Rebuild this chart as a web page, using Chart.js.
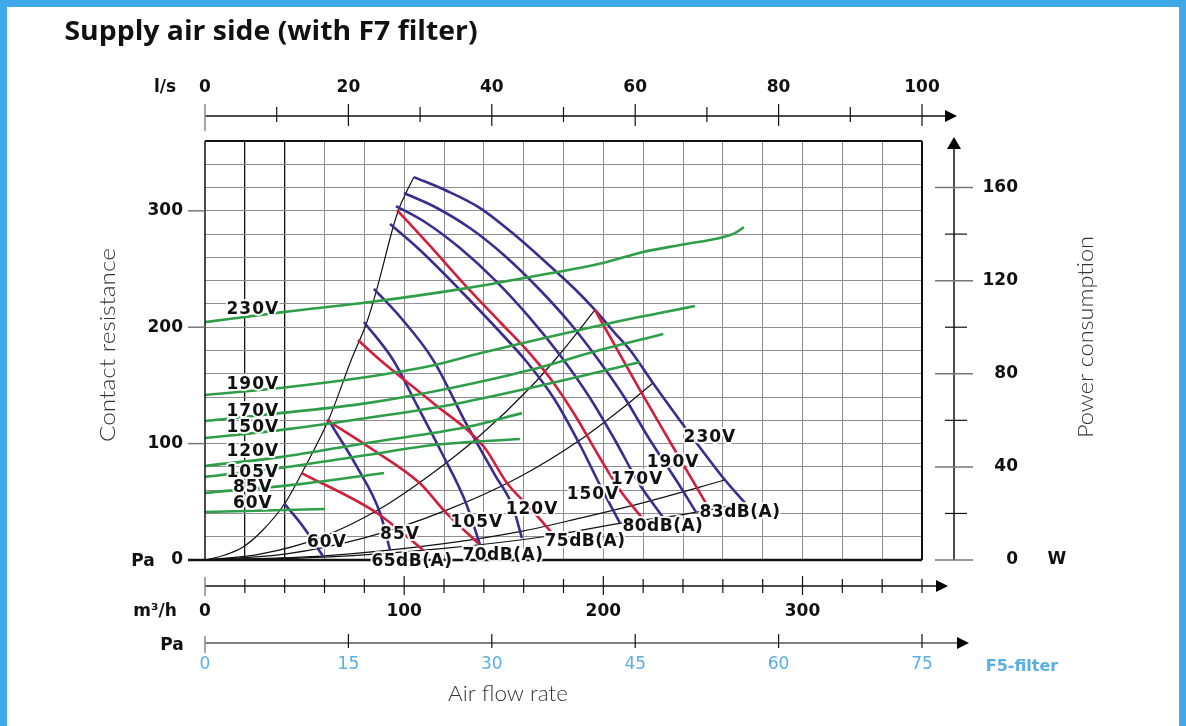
<!DOCTYPE html>
<html>
<head>
<meta charset="utf-8">
<script src="https://cdn.jsdelivr.net/npm/chart.js@4.4.1/dist/chart.umd.min.js"></script>
<style>
  html, body { margin: 0; padding: 0; background: #fff; }
  canvas { display: block; }
</style>
</head>
<body>
<canvas id="fanChart" width="1186" height="726"></canvas>
<script>
// air flow in m3/h, pressure in Pa, power in W

const flowTicks = [0, 100, 200, 300];
const litreTicks = [0, 20, 40, 60, 80, 100];
const f5Ticks = [0, 15, 30, 45, 60, 75];
const pressureTicks = [0, 100, 200, 300];
const powerTicks = [0, 40, 80, 120, 160];

const fanVoltages = ['230V', '190V', '170V', '150V', '120V', '105V', '85V', '60V'];

// fan curves [m3/h, Pa]
const fanCurves = [
  [[104.9,329],[120.5,317.9],[138.1,302.4],[155.6,279.2],[173.2,252.6],[185.7,232.8],[195.8,214.8],[205.8,195],[213.4,180.4],[224.9,152.1],[242,111.7],[261.1,68.7],[271.1,49]],
  [[99.9,315.3],[115.5,303.3],[133,285.2],[150.6,261.2],[168.2,232],[183.2,203.6],[198.3,170.1],[210.8,139.2],[223.4,103.1],[235.9,70.4],[246.5,41.2]],
  [[95.9,304.1],[110.4,290.4],[128,268],[145.6,240.5],[163.2,207.9],[178.2,176.1],[193.3,139.2],[205.8,103.1],[218.4,64.4],[229.9,36.9]],
  [[92.9,288.7],[107.9,266.3],[128,232],[148.1,195.9],[161.6,170.1],[175.7,137.5],[188.3,98.8],[198.3,64.4],[208.3,31.8]],
  [[84.8,233],[97.9,209],[114.5,172],[131.5,116],[145.6,73],[154.6,45.5],[159.1,19]],
  [[79.8,204.5],[94.4,172],[106.4,133],[119.5,90],[131,49],[138.1,13]],
  [[61.7,121],[76.3,80],[87.9,40.4],[92.9,8.6]],
  [[39.7,48.7],[49.3,28.6],[59.4,2.9]]
];

const soundLevels = ['65dB(A)', '70dB(A)', '75dB(A)', '80dB(A)', '83dB(A)'];

// constant sound level lines [m3/h, Pa]
const soundCurves = [
  [[48.8,74.5],[86.3,40.4],[109.6,8.6]],
  [[61.1,120.3],[84.5,94.5],[107.9,65.9],[121.3,40.1],[137.2,14.3]],
  [[76.8,189],[87.9,171.8],[114.5,134.9],[140.1,97.1],[151.6,66.2],[163.2,44.7],[174.2,23.2]],
  [[96.4,300.7],[113,269.8],[131.5,234.5],[148.1,204.5],[161.6,180.4],[173.2,156.4],[185.7,124.6],[198.3,87.6],[208.3,60.1],[219.9,35.2]],
  [[195.8,214.8],[204.3,189],[218.4,146],[235,97.1],[252,47.3]]
];

// system curves from the origin [m3/h, Pa]
const systemCurves = [
  [[0,0],[10,4.3],[19.1,11.2],[28.6,24.9],[40.2,49],[50.2,79.9],[62.2,121.1],[73.8,173.5],[81.3,204.5],[86.3,232.8],[94.9,288.7],[97.9,304.1],[100.9,315.3],[104.9,329]],
  [[0,0],[27.6,5],[57.7,19],[87.9,44],[113,73],[138.1,107],[163.2,148],[178.2,177],[195.8,214.8]],
  [[0,0],[40,5],[80,19],[120,42],[158.1,71.6],[188.3,103.1],[210,131],[224.9,152.1]],
  [[0,0],[60,3.5],[120,14],[160,25],[188.3,36],[221.8,50],[261.1,68.7]],
  [[0,0],[60,2.5],[120,10],[170,20],[208.3,31.5],[240,39],[271.1,49]]
];

// power consumption per voltage [m3/h, W]
const powerCurves = [
  [[0,102.2],[39.2,106.5],[82.8,110.8],[131.5,116.8],[163.2,121.6],[199.8,127.6],[219.9,132.3],[238.5,135.3],[260,138.7],[266,140.4],[270.6,143]],
  [[0,70.9],[37.7,73.9],[81.3,78.6],[113,83.3],[138.1,88.8],[168.2,94.9],[188.3,98.8],[208.3,102.7],[228.4,106.1],[246,109.1]],
  [[0,59.7],[37.7,63.1],[81.3,67.4],[123,73.8],[163.2,81.6],[198.3,90.2],[230.1,97.1]],
  [[0,52.4],[37.7,55.8],[81.3,61],[123,66.6],[163.2,73.9],[201.8,81.6],[218.4,85.1]],
  [[0,40.4],[37.7,44.2],[81.3,50.3],[131.5,57.1],[159.1,63.1]],
  [[0,35.7],[37.7,39.5],[81.3,45.1],[114.5,49.4],[158.1,52]],
  [[0,28.8],[47.7,32.6],[89.9,37.4]],
  [[0,20.6],[60.2,21.9]]
];

// where the curve names sit [m3/h, Pa]
const fanLabelAt = [[253.5,105.4],[235,83.6],[216.9,69.3],[194.8,55.8],[164.2,43],[136.5,32],[97.9,21.5],[61.2,14.9]];
const powerLabelAt = [[24,214.8],[24,150.3],[24,127.1],[24,113.4],[24,92.8],[24,74.7],[24,61.9],[24,48.1]];
const soundLabelAt = [[103.9,-1.5],[149.6,3.4],[190.8,15.7],[229.9,28.6],[268.6,40.6]];

const FAN_BLUE = '#3a2d8f';
const DB_RED = '#cf1f3d';
const POWER_GREEN = '#2f9e48';
const FRAME_BLUE = '#3ea8e8';
const F5_BLUE = '#5aaee3';

function curveSet(points, color, width, yAxisID, order) {
  return {
    data: points.map(p => ({ x: p[0], y: p[1] })),
    borderColor: color,
    borderWidth: width,
    pointRadius: 0,
    fill: false,
    cubicInterpolationMode: 'monotone',
    xAxisID: 'x',
    yAxisID: yAxisID,
    order: order
  };
}

const datasets = [];
systemCurves.forEach(c => datasets.push(curveSet(c, '#111', 1.2, 'y', 4)));
fanCurves.forEach(c => datasets.push(curveSet(c, FAN_BLUE, 2.6, 'y', 3)));
soundCurves.forEach(c => datasets.push(curveSet(c, DB_RED, 2.6, 'y', 2)));
powerCurves.forEach(c => datasets.push(curveSet(c, POWER_GREEN, 2.6, 'w', 1)));

function text(ctx, s, x, y, font, color, align, base) {
  ctx.font = font;
  ctx.fillStyle = color;
  ctx.textAlign = align || 'center';
  ctx.textBaseline = base || 'middle';
  ctx.fillText(s, x, y);
}

// text squeezed or stretched to a given width
function fitText(ctx, s, x, y, font, color, width, angle) {
  ctx.save();
  ctx.font = font;
  ctx.fillStyle = color;
  ctx.textAlign = 'center';
  ctx.textBaseline = 'middle';
  const w = ctx.measureText(s).width;
  ctx.translate(x, y);
  if (angle) ctx.rotate(angle);
  ctx.scale(width / w, 1);
  ctx.fillText(s, 0, 0);
  ctx.restore();
}

function haloText(ctx, s, x, y, font, spacing) {
  ctx.save();
  ctx.font = font;
  ctx.letterSpacing = spacing + 'px';
  ctx.textAlign = 'center';
  ctx.textBaseline = 'middle';
  ctx.lineJoin = 'round';
  ctx.strokeStyle = 'rgba(255,255,255,0.9)';
  ctx.lineWidth = 4;
  ctx.strokeText(s, x, y);
  ctx.fillStyle = '#111';
  ctx.fillText(s, x, y);
  ctx.restore();
}

function line(ctx, x1, y1, x2, y2, color, width) {
  ctx.beginPath();
  ctx.moveTo(x1, y1);
  ctx.lineTo(x2, y2);
  ctx.strokeStyle = color;
  ctx.lineWidth = width;
  ctx.stroke();
}

function arrow(ctx, x, y, dir) {
  ctx.beginPath();
  if (dir === 'right') {
    ctx.moveTo(x, y); ctx.lineTo(x - 12, y - 6); ctx.lineTo(x - 12, y + 6);
  } else {
    ctx.moveTo(x, y); ctx.lineTo(x - 7, y + 12); ctx.lineTo(x + 7, y + 12);
  }
  ctx.closePath();
  ctx.fillStyle = '#000';
  ctx.fill();
}

const decor = {
  id: 'decor',
  beforeDraw(chart) {
    const ctx = chart.ctx;
    ctx.save();
    ctx.fillStyle = '#fff';
    ctx.fillRect(0, 0, chart.width, chart.height);
    ctx.fillStyle = FRAME_BLUE;
    ctx.fillRect(0, 0, chart.width, 7);
    ctx.fillRect(0, 0, 7, chart.height);
    ctx.fillRect(chart.width - 7, 0, 7, chart.height);
    ctx.restore();
  },
  afterDraw(chart) {
    const ctx = chart.ctx;
    const X = chart.scales.x, Y = chart.scales.y, W = chart.scales.w;
    const LS = chart.scales.ls, F5 = chart.scales.f5;
    const ca = chart.chartArea;
    const numFont = 'bold 17px "DejaVu Sans"';
    ctx.save();

    // title
    fitText(ctx, 'Supply air side (with F7 filter)', 271, 33, 'bold 26px "Open Sans"', '#111', 413);

    // plot frame
    line(ctx, ca.left, ca.top, ca.right, ca.top, '#111', 2);
    line(ctx, ca.right, ca.top, ca.right, ca.bottom, '#111', 2);
    line(ctx, ca.left, ca.top, ca.left, ca.bottom, '#111', 1.5);
    line(ctx, 188, ca.bottom, ca.right, ca.bottom, '#111', 2.5);

    // left pressure axis
    pressureTicks.forEach(v => {
      const y = Y.getPixelForValue(v);
      if (v > 0) line(ctx, 188, y, ca.left, y, '#777', 1.5);
      text(ctx, String(v), 183, y, numFont, '#111', 'right');
    });
    text(ctx, 'Pa', 143, Y.getPixelForValue(0) + 2, numFont, '#111');
    fitText(ctx, 'Contact resistance', 108, 345, '300 22px Lato', '#333', 194, -Math.PI / 2);

    // top l/s axis
    const topY = 116;
    line(ctx, LS.getPixelForValue(0), topY, 947, topY, '#111', 1.5);
    arrow(ctx, 957, topY, 'right');
    for (let i = 0; i < litreTicks.length; i++) {
      const v = litreTicks[i];
      const x = LS.getPixelForValue(v);
      if (v === 0) line(ctx, x, 104, x, 131, '#888', 1.5);
      else line(ctx, x, 104, x, 126, '#111', 1.2);
      if (i < litreTicks.length - 1) {
        const xm = LS.getPixelForValue((v + litreTicks[i + 1]) / 2);
        line(ctx, xm, 107, xm, 122, '#111', 1.2);
      }
      text(ctx, String(v), x, 88, numFont, '#111');
    }
    text(ctx, 'l/s', 165, 88, numFont, '#111');

    // bottom m3/h axis
    const botY = 586;
    line(ctx, X.getPixelForValue(0), botY, 937, botY, '#111', 1.5);
    arrow(ctx, 948, botY, 'right');
    for (let v = 0; v <= 360; v += 20) {
      const x = X.getPixelForValue(v);
      if (v === 0) line(ctx, x, 577, x, 596, '#888', 1.5);
      else if (v % 100 === 0) line(ctx, x, 576, x, 595, '#111', 1.2);
      else line(ctx, x, 579, x, 593, '#111', 1.2);
    }
    flowTicks.forEach(v => text(ctx, String(v), X.getPixelForValue(v), 612, numFont, '#111'));
    text(ctx, 'm\u00b3/h', 155, 612, numFont, '#111');

    // F5 filter pressure axis
    const f5Y = 643;
    line(ctx, F5.getPixelForValue(0), f5Y, 958, f5Y, '#555', 1.5);
    arrow(ctx, 969, f5Y, 'right');
    f5Ticks.forEach(v => {
      const x = F5.getPixelForValue(v);
      if (v === 0) line(ctx, x, 636, x, 653, '#888', 1.5);
      else line(ctx, x, 634, x, 648, '#111', 1.2);
      text(ctx, String(v), x, 665, '17px "DejaVu Sans"', F5_BLUE);
    });
    text(ctx, 'Pa', 172, 646, numFont, '#111');
    text(ctx, 'F5-filter', 1022, 667, 'bold 16px "DejaVu Sans"', F5_BLUE);
    fitText(ctx, 'Air flow rate', 508, 694, '300 22px Lato', '#333', 120);

    // right power axis
    const rx = 954;
    line(ctx, rx, 148, rx, W.getPixelForValue(0), '#111', 1.5);
    arrow(ctx, rx, 137, 'up');
    for (let v = 0; v <= 160; v += 20) {
      const y = W.getPixelForValue(v);
      if (v % 40 === 0) line(ctx, 935, y, 973, y, '#777', 1.5);
      else line(ctx, 945, y, 967, y, '#111', 1.2);
    }
    powerTicks.forEach(v => text(ctx, String(v), 1018, W.getPixelForValue(v), numFont, '#111', 'right'));
    text(ctx, 'W', 1057, W.getPixelForValue(0), numFont, '#111');
    fitText(ctx, 'Power consumption', 1086, 337, '300 22px Lato', '#333', 202, -Math.PI / 2);

    // curve names
    const lblFont = 'bold 17px "DejaVu Sans"';
    fanVoltages.forEach((s, i) => {
      const p = powerLabelAt[i];
      haloText(ctx, s, X.getPixelForValue(p[0]), Y.getPixelForValue(p[1]), lblFont, 1);
      const q = fanLabelAt[i];
      haloText(ctx, s, X.getPixelForValue(q[0]), Y.getPixelForValue(q[1]), lblFont, 1);
    });
    soundLevels.forEach((s, i) => {
      const p = soundLabelAt[i];
      haloText(ctx, s, X.getPixelForValue(p[0]), Y.getPixelForValue(p[1]), lblFont, 0.5);
    });

    ctx.restore();
  }
};

function gridColor(c) {
  const v = c.tick ? c.tick.value : null;
  if (v === 0 || v === 360) return 'rgba(0,0,0,0)';
  return '#8e8e8e';
}

new Chart(document.getElementById('fanChart'), {
  type: 'line',
  data: { datasets: datasets },
  options: {
    responsive: false,
    animation: false,
    devicePixelRatio: 1,
    events: [],
    layout: { padding: { left: 205, right: 264, top: 141, bottom: 166 } },
    plugins: { legend: { display: false }, tooltip: { enabled: false }, title: { display: false } },
    scales: {
      x: {
        type: 'linear', min: 0, max: 360,
        ticks: { display: false, stepSize: 20 },
        border: { display: false },
        grid: {
          drawTicks: false,
          color: c => (c.tick && (c.tick.value === 20 || c.tick.value === 40)) ? '#111' : gridColor(c),
          lineWidth: c => (c.tick && (c.tick.value === 20 || c.tick.value === 40)) ? 1.3 : 1
        },
        afterFit: s => { s.height = 0; }
      },
      y: {
        type: 'linear', min: 0, max: 360,
        ticks: { display: false, stepSize: 20 },
        border: { display: false },
        grid: { drawTicks: false, color: gridColor, lineWidth: 1 },
        afterFit: s => { s.width = 0; }
      },
      w: { type: 'linear', position: 'right', min: 0, max: 180, display: false },
      ls: { type: 'linear', axis: 'x', position: 'top', min: 0, max: 100, display: false },
      f5: { type: 'linear', axis: 'x', position: 'bottom', min: 0, max: 75, display: false }
    }
  },
  plugins: [decor]
});
</script>
</body>
</html>
